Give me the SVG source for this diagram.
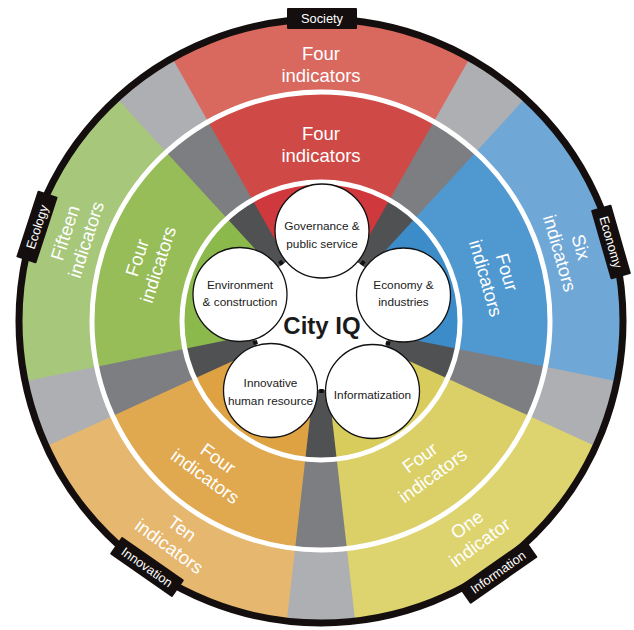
<svg xmlns="http://www.w3.org/2000/svg" width="634" height="630" viewBox="0 0 634 630">
<style>
.ind{font-family:"Liberation Sans",Arial,sans-serif;font-size:18.5px;fill:#ffffff;text-anchor:middle}
.cat{font-family:"Liberation Sans",Arial,sans-serif;font-size:12.8px;fill:#ffffff;text-anchor:middle}
.nd{font-family:"Liberation Sans",Arial,sans-serif;font-size:11.8px;fill:#1a1a1a;text-anchor:middle}
.node{fill:#ffffff;stroke:#111111;stroke-width:1.3}
.ring{fill:none;stroke:#ffffff;stroke-width:5}
.tag{fill:#140f0e}
</style>
<rect width="634" height="630" fill="#ffffff"/>
<g id="separators">
<circle cx="321" cy="321" r="303" fill="#aeafb3"/>
<circle cx="321" cy="321" r="229" fill="#7d7e82"/>
<circle cx="321" cy="321" r="139" fill="#505153"/>
</g>
<g id="sector-society">
<path d="M171.8,57.3 A303,303 0 0 1 470.2,57.3 L433.8,121.7 A229,229 0 0 0 208.2,121.7 Z" fill="#d9685f"/>
<path d="M208.2,121.7 A229,229 0 0 1 433.8,121.7 L389.4,200 A139,139 0 0 0 252.6,200 Z" fill="#cf4946"/>
<path d="M321,321 L252.6,200 A139,139 0 0 1 389.4,200 Z" fill="#cf383c"/>
<text class="ind"><tspan x="321" y="60">Four</tspan><tspan x="321" y="82">indicators</tspan></text>
<text class="ind"><tspan x="321" y="140">Four</tspan><tspan x="321" y="162">indicators</tspan></text>
</g>
<g id="sector-economy">
<path d="M525.7,97.6 A303,303 0 0 1 617.9,381.4 L545.4,366.7 A229,229 0 0 0 475.7,152.2 Z" fill="#6fa8d6"/>
<path d="M475.7,152.2 A229,229 0 0 1 545.4,366.7 L457.2,348.7 A139,139 0 0 0 414.9,218.5 Z" fill="#5098d0"/>
<path d="M321,321 L414.9,218.5 A139,139 0 0 1 457.2,348.7 Z" fill="#3d8cca"/>
<g transform="translate(571,250) rotate(74)"><text class="ind"><tspan x="0" y="-4">Six</tspan><tspan x="0" y="18">indicators</tspan></text></g>
<g transform="translate(497,275) rotate(74)"><text class="ind"><tspan x="0" y="-4">Four</tspan><tspan x="0" y="18">indicators</tspan></text></g>
</g>
<g id="sector-information">
<path d="M596.7,446.7 A303,303 0 0 1 355.3,622.1 L346.9,548.5 A229,229 0 0 0 529.4,416 Z" fill="#ddd46f"/>
<path d="M529.4,416 A229,229 0 0 1 346.9,548.5 L336.7,459.1 A139,139 0 0 0 447.5,378.6 Z" fill="#dad067"/>
<path d="M321,321 L447.5,378.6 A139,139 0 0 1 336.7,459.1 Z" fill="#d8cc5c"/>
<g transform="translate(473,533) rotate(-36)"><text class="ind"><tspan x="0" y="-4">One</tspan><tspan x="0" y="18">indicator</tspan></text></g>
<g transform="translate(426,466) rotate(-36)"><text class="ind"><tspan x="0" y="-4">Four</tspan><tspan x="0" y="18">indicators</tspan></text></g>
</g>
<g id="sector-innovation">
<path d="M286.7,622.1 A303,303 0 0 1 45.3,446.7 L112.6,416 A229,229 0 0 0 295.1,548.5 Z" fill="#e6b76e"/>
<path d="M295.1,548.5 A229,229 0 0 1 112.6,416 L194.5,378.6 A139,139 0 0 0 305.3,459.1 Z" fill="#e0a950"/>
<path d="M321,321 L305.3,459.1 A139,139 0 0 1 194.5,378.6 Z" fill="#dea243"/>
<g transform="translate(176,537) rotate(36)"><text class="ind"><tspan x="0" y="-4">Ten</tspan><tspan x="0" y="18">indicators</tspan></text></g>
<g transform="translate(212,467) rotate(36)"><text class="ind"><tspan x="0" y="-4">Four</tspan><tspan x="0" y="18">indicators</tspan></text></g>
</g>
<g id="sector-ecology">
<path d="M24.1,381.4 A303,303 0 0 1 116.3,97.6 L166.3,152.2 A229,229 0 0 0 96.6,366.7 Z" fill="#a7c77b"/>
<path d="M96.6,366.7 A229,229 0 0 1 166.3,152.2 L227.1,218.5 A139,139 0 0 0 184.8,348.7 Z" fill="#97bd59"/>
<path d="M321,321 L184.8,348.7 A139,139 0 0 1 227.1,218.5 Z" fill="#8bb94b"/>
<g transform="translate(75,236) rotate(-72)"><text class="ind"><tspan x="0" y="-4">Fifteen</tspan><tspan x="0" y="18">indicators</tspan></text></g>
<g transform="translate(147,261) rotate(-72)"><text class="ind"><tspan x="0" y="-4">Four</tspan><tspan x="0" y="18">indicators</tspan></text></g>
</g>
<g id="rings">
<circle class="ring" cx="321" cy="321" r="229"/>
<circle class="ring" cx="321" cy="321" r="139"/>
<circle cx="321.5" cy="321" r="69" fill="#ffffff"/>
<circle cx="321" cy="321" r="302" fill="none" stroke="#140f0e" stroke-width="7"/>
</g>
<g id="connectors">
<rect x="360.5" y="261" width="4.5" height="4" fill="#111111" transform="rotate(-54 362.75 263)"/>
<rect x="385.75" y="341.25" width="4.5" height="4" fill="#111111" transform="rotate(18 388 343.25)"/>
<rect x="319.25" y="389" width="4.5" height="4" fill="#111111"/>
<rect x="253" y="340.5" width="4.5" height="4" fill="#111111" transform="rotate(-18 255.25 342.5)"/>
<rect x="278.75" y="260.75" width="4.5" height="4" fill="#111111" transform="rotate(54 281 262.75)"/>
</g>
<g id="city-iq">
<text x="322" y="334" font-family="'Liberation Sans',Arial,sans-serif" font-size="24" font-weight="bold" fill="#1a1a1a" text-anchor="middle">City IQ</text>
</g>
<g id="node-governance">
<circle class="node" cx="322" cy="231" r="47"/>
<text class="nd"><tspan x="322" y="230">Governance &amp;</tspan><tspan x="322" y="248">public service</tspan></text>
</g>
<g id="node-economy">
<circle class="node" cx="403.5" cy="295" r="47"/>
<text class="nd"><tspan x="403.5" y="289">Economy &amp;</tspan><tspan x="403.5" y="306">industries</tspan></text>
</g>
<g id="node-environment">
<circle class="node" cx="240" cy="294.5" r="47"/>
<text class="nd"><tspan x="240" y="289">Environment</tspan><tspan x="240" y="306">&amp; construction</tspan></text>
</g>
<g id="node-innovative">
<circle class="node" cx="270.5" cy="390.5" r="47"/>
<text class="nd"><tspan x="270.5" y="387">Innovative</tspan><tspan x="270.5" y="405">human resource</tspan></text>
</g>
<g id="node-informatization">
<circle class="node" cx="372.5" cy="391.5" r="47"/>
<text class="nd"><tspan x="372.5" y="399">Informatization</tspan></text>
</g>
<g id="tag-society">
<rect class="tag" x="287" y="8" width="70" height="21" rx="1"/>
<text class="cat" x="322" y="23">Society</text>
</g>
<g id="tag-economy" transform="translate(611,242) rotate(74)">
<rect class="tag" x="-36" y="-10.5" width="72" height="21" rx="1"/>
<text class="cat" x="0" y="4.6">Economy</text>
</g>
<g id="tag-information" transform="translate(498,572) rotate(-35)">
<rect class="tag" x="-41" y="-10.5" width="82" height="21" rx="1"/>
<text class="cat" x="0" y="4.6">Information</text>
</g>
<g id="tag-innovation" transform="translate(147,567) rotate(35)">
<rect class="tag" x="-38" y="-10.5" width="76" height="21" rx="1"/>
<text class="cat" x="0" y="4.6">Innovation</text>
</g>
<g id="tag-ecology" transform="translate(37,227) rotate(-72)">
<rect class="tag" x="-35" y="-10.5" width="70" height="21" rx="1"/>
<text class="cat" x="0" y="4.6">Ecology</text>
</g>
</svg>
